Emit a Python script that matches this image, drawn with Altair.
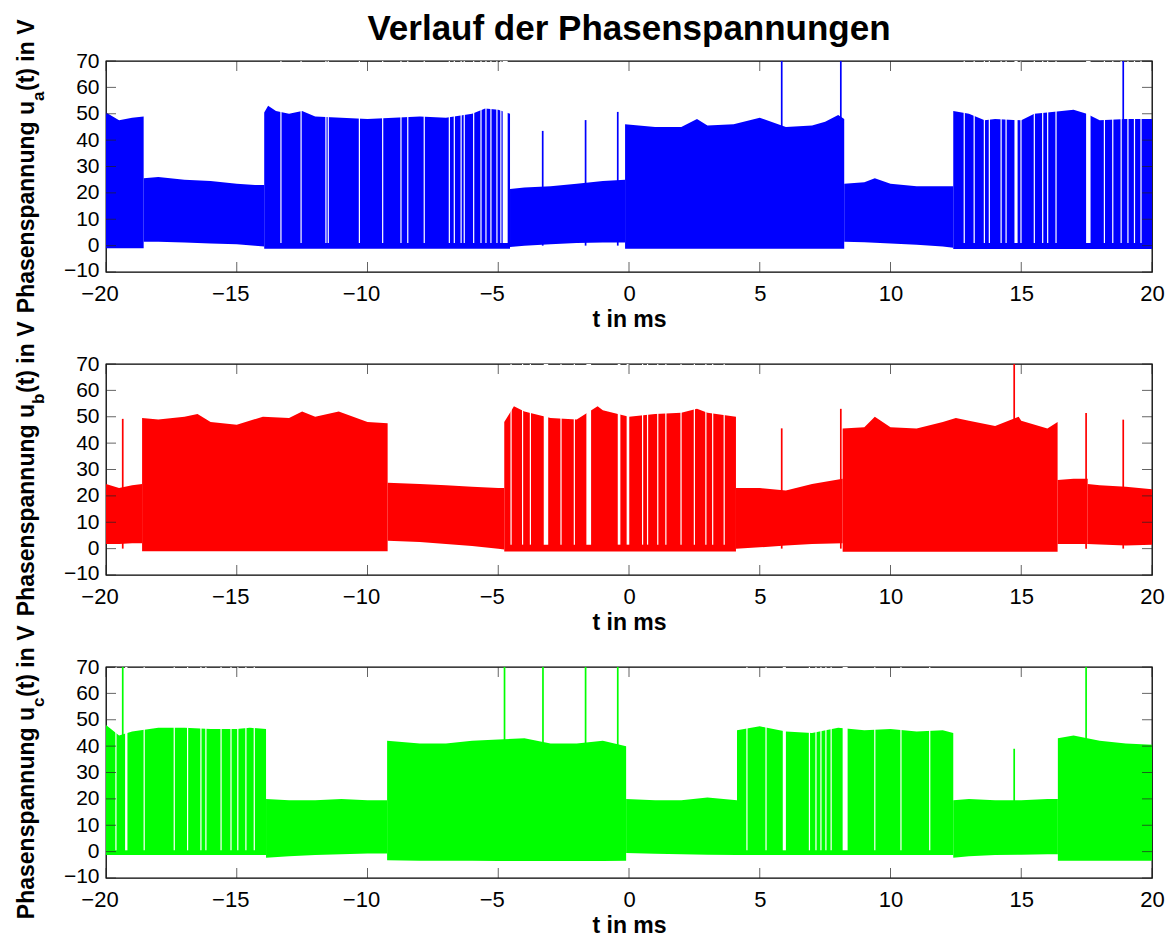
import altair as alt
import pandas as pd

# ---------------- axes / layout values ----------------
T_MIN, T_MAX = -20, 20
V_MIN, V_MAX = -10, 70
X_TICKS = [-20, -15, -10, -5, 0, 5, 10, 15, 20]
Y_TICKS = [-10, 0, 10, 20, 30, 40, 50, 60, 70]

TITLE = "Verlauf der Phasenspannungen"
X_TITLE = "t in ms"
Y_LABEL_HEAD = "Phasenspannung u"
Y_LABEL_TAIL = "(t) in V"
PHASES = ["a", "b", "c"]
COLORS = ["#0000ff", "#ff0000", "#00ff00"]

# ---------------- phase a (envelope of the PWM band, per segment) ----------------
A_SEG_T = [
    [-20, -19.5, -19, -18.56],
    [-18.56, -18, -17, -16, -15, -14.3, -13.95],
    [-13.95, -13.8, -13.5, -13, -12.5, -12, -11, -10, -9, -8, -7, -6, -5.5, -5, -4.55],
    [-4.55, -4, -3, -2, -1, -0.15],
    [-0.15, 1, 2, 2.6, 3, 4, 5, 6, 7, 7.5, 8, 8.23],
    [8.23, 9, 9.4, 10, 11, 12, 12.4],
    [12.4, 13, 13.6, 14, 15, 15.5, 16, 17, 17.5, 18, 19, 20],
]
A_SEG_TOP = [
    [50.5, 47.5, 48.5, 49],
    [25.5, 26, 25, 24.5, 23.5, 23, 23],
    [50.5, 53, 51, 50, 51, 49, 48.5, 48, 48.5, 49, 48.5, 50, 52, 51.5, 50],
    [21.5, 22, 22.5, 23.5, 24.5, 25],
    [46, 45, 45, 48, 45.5, 46, 48.5, 45, 45.5, 47, 49.5, 48],
    [23.5, 24, 25.5, 23.5, 22.5, 22.5, 22.5],
    [51, 50, 47.5, 48, 47.5, 50, 50.5, 51.5, 50, 47.5, 48, 48],
]
A_SEG_BOT = [
    [-1, -1, -1, -1],
    [1.5, 1.5, 1.2, 0.8, 0.5, 0, -0.3],
    [-1.2, -1.2, -1.2, -1.2, -1.2, -1.2, -1.2, -1.2, -1.2, -1.2, -1.2, -1.2, -1.2, -1.2, -1.2],
    [-0.5, 0, 0.5, 1, 1.2, 1.2],
    [-1.2, -1.2, -1.2, -1.2, -1.2, -1.2, -1.2, -1.2, -1.2, -1.2, -1.2, -1.2],
    [1.5, 1.3, 1.1, 0.8, 0.3, -0.3, -0.8],
    [-1.3, -1.3, -1.3, -1.3, -1.3, -1.3, -1.3, -1.3, -1.3, -1.3, -1.3, -1.3],
]
A_SPIKE_T = [-3.3, -1.66, -0.43, 5.84, 8.1, 18.9]
A_SPIKE_V = [43.5, 47.6, 50.7, 70, 70, 70]
A_GAP_T = [-13.31, -12.54, -11.59, -11.5, -10.31, -9.42, -8.72, -8.46, -7.83,
           -6.87, -6.68, -6.42, -6.3, -5.94, -5.66, -5.47, -5.28, -5.05, -4.9,
           12.82, 13.2, 13.59, 13.78, 14.23, 14.42, 14.99, 15.5, 15.82, 16.01,
           16.33, 18.18, 18.5, 18.82, 19.08, 19.33, 19.58]
A_GAP_T0 = [-4.83, 14.74, 17.48]
A_GAP_T1 = [-4.64, 14.86, 17.65]
A_GAP_LOW = 1.0

# ---------------- phase b ----------------
B_SEG_T = [
    [-20, -19.5, -19, -18.62],
    [-18.62, -18, -17, -16.5, -16, -15, -14, -13, -12.5, -12, -11.1, -10, -9.23],
    [-9.23, -8, -7, -6, -5, -4.77],
    [-4.77, -4.4, -4, -3, -2, -1.2, -1, 0, 1, 2, 2.6, 3, 4.09],
    [4.09, 5, 6, 7, 8.17],
    [8.17, 9, 9.4, 10, 11, 12, 12.5, 13, 14, 14.9, 15, 16, 16.39],
    [16.39, 17, 17.54],
    [17.54, 18, 19, 20],
]
B_SEG_TOP = [
    [24.5, 23, 24, 24.5],
    [49.5, 49, 50, 51, 48, 47, 50, 49.5, 52, 50, 52, 48, 47.5],
    [25, 24.5, 24, 23.5, 23, 23],
    [48, 54, 52, 49.5, 49, 54, 52.5, 50, 51, 51.5, 53, 51.5, 50],
    [23, 23, 22, 24.5, 26.5],
    [45.5, 46, 50, 46, 45.5, 48, 49.5, 48.5, 46.5, 50, 48.5, 45.5, 48],
    [26, 26.5, 26.5],
    [24.5, 24, 23.5, 22.5],
]
B_SEG_BOT = [
    [1.8, 1.8, 2, 2],
    [-1, -1, -1, -1, -1, -1, -1, -1, -1, -1, -1, -1, -1],
    [3, 2.5, 1.8, 1, 0, -0.3],
    [-1.1, -1.1, -1.1, -1.1, -1.1, -1.1, -1.1, -1.1, -1.1, -1.1, -1.1, -1.1, -1.1],
    [0, 0.5, 1.2, 1.8, 2],
    [-1.2, -1.2, -1.2, -1.2, -1.2, -1.2, -1.2, -1.2, -1.2, -1.2, -1.2, -1.2, -1.2],
    [1.8, 1.8, 1.8],
    [1.8, 1.6, 1.2, 1.5],
]
B_SPIKE_T = [-19.36, 5.84, 8.1, 14.73, 17.48, 18.9]
B_SPIKE_V = [49.2, 45.6, 53, 70, 51.4, 48.9]
B_GAP_T = [-4.51, -4.07, -3.77, -2.6, -2.09, 0.52, 0.71, 1.10, 1.41, 1.99,
           2.50, 2.94, 3.20, 3.64]
B_GAP_T0 = [-3.26, -1.63, -0.43, -0.09]
B_GAP_T1 = [-3.09, -1.45, -0.33, 0.01]
B_GAP_LOW = 1.5

# ---------------- phase c ----------------
C_SEG_T = [
    [-20, -19.5, -19, -18, -17, -16, -15, -14.5, -13.88],
    [-13.88, -13, -12, -11, -10, -9.25],
    [-9.25, -8, -7, -6, -5, -4, -3, -2, -1, -0.11],
    [-0.11, 1, 2, 3, 4.13],
    [4.13, 5, 6, 7, 8, 9, 10, 11, 12, 12.4],
    [12.4, 13, 14, 15, 16, 16.4],
    [16.4, 17, 18, 19, 20],
]
C_SEG_TOP = [
    [48, 44, 45.5, 47, 47, 46.5, 46.5, 47, 46.5],
    [20, 19.5, 19.5, 20, 19.5, 19.5],
    [42, 41, 41, 42, 42.5, 43, 41, 41, 42, 40],
    [20, 19.5, 19.5, 20.5, 19.5],
    [46, 47.5, 45.5, 45, 47, 46, 46.5, 45.5, 46, 45],
    [19.5, 20, 19.5, 19.5, 20, 20],
    [43, 44, 42, 41, 40.5],
]
C_SEG_BOT = [
    [-1.3, -1.3, -1.3, -1.3, -1.3, -1.3, -1.3, -1.3, -1.3],
    [-2.3, -1.8, -1.3, -1, -0.7, -0.7],
    [-3.3, -3.5, -3.5, -3.5, -3.6, -3.6, -3.6, -3.6, -3.6, -3.5],
    [-0.5, -0.8, -1, -1.2, -1.3],
    [-1.3, -1.3, -1.3, -1.3, -1.3, -1.3, -1.3, -1.3, -1.3, -1.3],
    [-2.3, -1.8, -1.3, -1.2, -1, -1],
    [-3.5, -3.5, -3.5, -3.5, -3.5],
]
C_SPIKE_T = [-19.36, -4.76, -3.29, -1.66, -0.43, 14.73, 17.48]
C_SPIKE_V = [70, 70, 70, 70, 70, 39, 70]
C_GAP_T = [-19.62, -18.54, -17.39, -16.88, -16.37, -16.18, -15.6, -15.22,
           -14.96, -14.65, -14.33, 4.51, 5.24, 6.9, 7.15, 7.34, 7.53, 7.73,
           9.4, 10.4, 11.5]
C_GAP_T0 = [-19.27, 5.88, 8.17]
C_GAP_T1 = [-19.18, 6.0, 8.36]
C_GAP_LOW = 0.5

# ---------------- styling ----------------
W, H = 1046, 211
FONT = "Liberation Sans"
TICK_COLOR = "#222222"

xs = alt.Scale(domain=[T_MIN, T_MAX], nice=False, zero=False)
ys = alt.Scale(domain=[V_MIN, V_MAX], nice=False, zero=False)

x_axis = alt.Axis(
    values=X_TICKS, title=X_TITLE, labelFont=FONT, labelFontSize=22,
    labelColor="black", labelPadding=11, labelFlush=False, labelOverlap=False,
    labelOffset={"condition": {"test": "datum.value < 0", "value": -6.5}, "value": 0},
    ticks=False, tickSize=0, domain=False, grid=False,
    titleFont=FONT, titleFontSize=23, titleFontWeight="bold", titleColor="black",
    titleBaseline="alphabetic", titleY=54,
)
y_axis = alt.Axis(
    values=Y_TICKS, title=None, labelFont=FONT, labelFontSize=21,
    labelColor="black", labelPadding=7, labelFlush=False, labelOverlap=False,
    labelOffset={"condition": {"test": "datum.value == -10", "value": -2}, "value": 0},
    ticks=False, tickSize=0, domain=False, grid=False,
)


def X(field):
    return alt.X(field, scale=xs, axis=x_axis)


def Y(field):
    return alt.Y(field, scale=ys, axis=y_axis)


def seg_df(ts, tops, bots):
    rows = []
    for k, (tt, tp, bt) in enumerate(zip(ts, tops, bots)):
        for a, b, c in zip(tt, tp, bt):
            rows.append({"seg": k, "t": a, "top": b, "bot": c})
    return pd.DataFrame(rows)


def text_layer(s, x, y, size, align, angle=0, weight="bold"):
    return alt.Chart(pd.DataFrame({"s": [s]})).mark_text(
        font=FONT, fontSize=size, fontWeight=weight, angle=angle,
        align=align, baseline="alphabetic", color="black",
    ).encode(text="s:N", x=alt.value(x), y=alt.value(y))


SUB_W = {"a": 10, "b": 11, "c": 10}


def panel(idx, seg_t, seg_top, seg_bot, sp_t, sp_v, gap_t, g0, g1, glow, with_title=False):
    color = COLORS[idx]
    ph = PHASES[idx]
    band = alt.Chart(seg_df(seg_t, seg_top, seg_bot)).mark_area(
        color=color, opacity=1, interpolate="linear"
    ).encode(x=X("t:Q"), y=Y("top:Q"), y2="bot:Q", detail="seg:N")
    gaps = alt.Chart(pd.DataFrame({"t": gap_t, "lo": [glow for _ in gap_t],
                                   "hi": [V_MAX for _ in gap_t]})).mark_rule(
        color="white", strokeWidth=1.2
    ).encode(x=X("t:Q"), y=Y("lo:Q"), y2="hi:Q")
    wide = alt.Chart(pd.DataFrame({"t0": g0, "t1": g1, "lo": [glow for _ in g0],
                                   "hi": [V_MAX for _ in g0]})).mark_rect(
        color="white"
    ).encode(x=X("t0:Q"), x2="t1:Q", y=Y("lo:Q"), y2="hi:Q")
    spikes = alt.Chart(pd.DataFrame({"t": sp_t, "v": sp_v,
                                     "lo": [0 for _ in sp_t]})).mark_rule(
        color=color, strokeWidth=1.7
    ).encode(x=X("t:Q"), y=Y("lo:Q"), y2="v:Q")
    xt = pd.DataFrame({"v": X_TICKS})
    yt = pd.DataFrame({"v": Y_TICKS})
    tick_b = alt.Chart(xt).mark_tick(color=TICK_COLOR, thickness=1, size=10).encode(
        x=X("v:Q"), y=alt.value(H - 5))
    tick_t = alt.Chart(xt).mark_tick(color=TICK_COLOR, thickness=1, size=10).encode(
        x=X("v:Q"), y=alt.value(5))
    tick_l = alt.Chart(yt).mark_tick(color=TICK_COLOR, thickness=1, size=10).encode(
        y=Y("v:Q"), x=alt.value(5))
    tick_r = alt.Chart(yt).mark_tick(color=TICK_COLOR, thickness=1, size=10).encode(
        y=Y("v:Q"), x=alt.value(W - 5))
    sub_y = 40
    lab1 = text_layer(Y_LABEL_HEAD, -72, sub_y, 23, "right", angle=270)
    lab2 = text_layer(ph, -62, sub_y, 17, "left", angle=270)
    lab3 = text_layer(Y_LABEL_TAIL, -72, sub_y - SUB_W[ph], 23, "left", angle=270)
    layers = [band, gaps, wide, spikes, tick_b, tick_t, tick_l, tick_r, lab1, lab2, lab3]
    if with_title:
        layers.append(text_layer(TITLE, W / 2, -21, 35, "center"))
    return alt.layer(*layers).properties(width=W, height=H)


p1 = panel(0, A_SEG_T, A_SEG_TOP, A_SEG_BOT, A_SPIKE_T, A_SPIKE_V, A_GAP_T,
           A_GAP_T0, A_GAP_T1, A_GAP_LOW, with_title=True)
p2 = panel(1, B_SEG_T, B_SEG_TOP, B_SEG_BOT, B_SPIKE_T, B_SPIKE_V, B_GAP_T,
           B_GAP_T0, B_GAP_T1, B_GAP_LOW)
p3 = panel(2, C_SEG_T, C_SEG_TOP, C_SEG_BOT, C_SPIKE_T, C_SPIKE_V, C_GAP_T,
           C_GAP_T0, C_GAP_T1, C_GAP_LOW)

chart = alt.vconcat(p1, p2, p3, spacing=92, bounds="flush").properties(
    padding={"left": 15, "top": 11, "right": 5, "bottom": 0},
    background="white",
).configure_view(stroke="black", strokeWidth=1.3)

chart.save("out.html", embed_options={"renderer": "svg", "actions": False})
